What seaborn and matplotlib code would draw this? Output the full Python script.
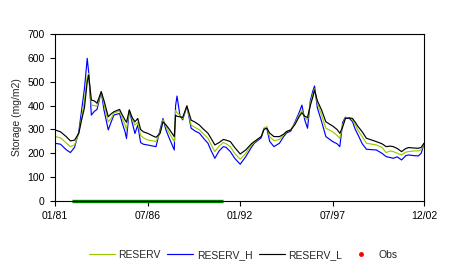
import matplotlib
matplotlib.use("Agg")
import matplotlib.pyplot as plt
import matplotlib.dates as mdates
from matplotlib.lines import Line2D
import numpy as np
import pandas as pd
import seaborn as sns

# months since Jan 1981
month_index = [0, 4, 8, 11, 14, 17, 19, 21, 23, 24, 26, 28, 30, 33, 35, 38, 40, 42, 46, 48,
               50, 51, 53, 55, 57, 59, 61, 63, 66, 70, 72, 75, 77, 79, 81, 85, 86, 87, 89, 91,
               94, 97, 100, 103, 106, 109, 111, 114, 117, 120, 122, 125, 128, 132, 136, 140, 142, 147, 149, 151,
               153, 156, 160, 163, 165, 168, 171, 174, 176, 178, 180, 182, 184, 185, 187, 190, 193, 198, 201, 203,
               205, 207, 210, 212, 214, 216, 219, 222, 226, 229, 233, 236, 239, 241, 244, 247, 250, 252, 256, 259,
               261, 263]

reserv_l = [298, 290, 270, 252, 255, 284, 340, 390, 500, 528, 423, 420, 410, 458, 420, 353, 365, 374, 384, 360,
            339, 330, 381, 350, 332, 346, 300, 290, 284, 272, 267, 284, 332, 320, 305, 270, 360, 355, 353, 350,
            398, 339, 330, 318, 300, 284, 265, 235, 245, 258, 255, 249, 225, 197, 214, 240, 249, 270, 300, 305,
            285, 270, 270, 280, 291, 298, 320, 353, 370, 355, 350, 400, 440, 465, 420, 381, 332, 314, 300, 284,
            310, 346, 348, 346, 330, 312, 290, 263, 255, 249, 240, 228, 230, 228, 220, 207, 220, 224, 222, 221,
            225, 242]

reserv = [270, 265, 243, 228, 235, 284, 350, 420, 520, 535, 402, 400, 398, 458, 405, 332, 345, 368, 378, 345,
          318, 300, 381, 345, 318, 330, 275, 265, 256, 252, 249, 290, 340, 315, 290, 249, 380, 370, 360, 345,
          398, 318, 308, 298, 280, 263, 240, 207, 230, 245, 240, 228, 200, 175, 200, 235, 246, 270, 305, 312,
          270, 253, 258, 278, 291, 298, 325, 360, 380, 350, 340, 410, 450, 470, 410, 360, 305, 290, 275, 263,
          320, 348, 350, 340, 320, 295, 270, 242, 238, 235, 225, 203, 210, 207, 200, 193, 205, 207, 210, 210,
          215, 240]

reserv_h = [242, 238, 215, 203, 225, 290, 381, 470, 598, 540, 360, 375, 384, 458, 380, 298, 330, 360, 367, 325,
            290, 262, 381, 330, 283, 318, 245, 238, 235, 230, 228, 300, 346, 300, 270, 214, 400, 440, 360, 340,
            398, 305, 293, 284, 262, 242, 215, 179, 210, 228, 225, 207, 180, 154, 186, 225, 242, 265, 305, 305,
            250, 228, 242, 270, 285, 293, 330, 370, 402, 340, 305, 420, 465, 482, 390, 333, 270, 249, 240, 228,
            330, 351, 345, 333, 300, 277, 240, 217, 215, 214, 200, 186, 182, 179, 185, 172, 190, 193, 190, 189,
            200, 240]

obs_period = ["1982-01-01", "1991-01-01"]
tick_dates = ["1981-01-01", "1986-07-01", "1992-01-01", "1997-07-01", "2002-12-01"]

dates = [pd.Timestamp(1981 + m // 12, m % 12 + 1, 1) for m in month_index]
df = pd.DataFrame({"date": dates, "RESERV": reserv, "RESERV_H": reserv_h, "RESERV_L": reserv_l})

sns.set_style("white")
plt.rcParams['font.family'] = ['Liberation Sans', 'DejaVu Sans']

fig = plt.figure(figsize=(4.54, 2.73), dpi=100)
ax = fig.add_axes([55/454, 1-201/273, (424-55)/454, (201-34)/273])

c_res = "#99cc00"
c_h = "#0000ff"
c_l = "#000000"
lw = 0.85

sns.lineplot(data=df, x="date", y="RESERV_H", ax=ax, color=c_h, lw=lw)
sns.lineplot(data=df, x="date", y="RESERV", ax=ax, color=c_res, lw=lw)
sns.lineplot(data=df, x="date", y="RESERV_L", ax=ax, color=c_l, lw=lw)

obs_df = pd.DataFrame({"date": pd.to_datetime(obs_period), "v": [0, 0]})
sns.lineplot(data=obs_df, x="date", y="v", ax=ax, color="#008000", lw=2.4, clip_on=False, solid_capstyle="butt")

ax.set_xlim(pd.Timestamp("1981-01-01"), pd.Timestamp("2002-12-01"))
ax.set_ylim(0, 700)
ax.set_yticks(range(0, 701, 100))
ax.set_xticks(pd.to_datetime(tick_dates))
ax.xaxis.set_major_formatter(mdates.DateFormatter("%m/%y"))
ax.tick_params(axis="both", labelsize=7.5, length=3.5, width=0.8, direction="out",
               bottom=True, left=True, colors="black", pad=4)
ax.set_xlabel("")
ax.set_ylabel("Storage (mg/m2)", fontsize=7.5, labelpad=4)
for s in ax.spines.values():
    s.set_color("black")
    s.set_linewidth(0.8)

handles = [Line2D([], [], color=c_res, lw=lw),
           Line2D([], [], color=c_h, lw=lw),
           Line2D([], [], color=c_l, lw=lw),
           Line2D([], [], color="red", lw=0, marker="o", markersize=2.5)]
labels = ["RESERV", "RESERV_H", "RESERV_L", "Obs"]
fig.legend(handles, labels, loc="center", bbox_to_anchor=(0.535, 0.066), ncol=4, frameon=False,
           fontsize=7.5, handlelength=2.5, handletextpad=0.35, columnspacing=0.6)

fig.savefig("out.png", dpi=100)
